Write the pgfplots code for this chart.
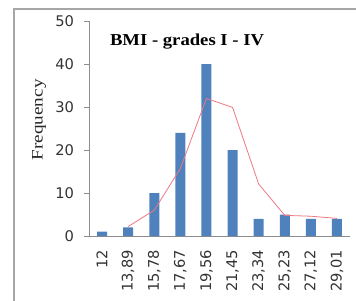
\documentclass[border=0pt]{standalone}
\usepackage{fontspec}
\setmainfont{Liberation Serif}
\newfontfamily\dejavu{DejaVu Sans}
\usepackage{pgfplots}
\pgfplotsset{compat=1.18}
\definecolor{barblue}{HTML}{4F81BD}
\definecolor{linered}{RGB}{238,120,130}
\definecolor{axgray}{HTML}{8C8C8C}
\definecolor{framegray}{HTML}{A6A6A6}
\begin{document}
\begin{tikzpicture}
\useasboundingbox (0,0) rectangle (267pt,225pt);
\draw[framegray, line width=1.2pt] (10.5pt,-5pt) -- (10.5pt,218.25pt) -- (280pt,218.25pt);
\begin{axis}[
  at={(66.75pt,48pt)}, anchor=south west,
  scale only axis, width=195.75pt, height=161.25pt,
  xmin=-0.5, xmax=9.5, ymin=0, ymax=50,
  axis lines=left,
  axis line style={axgray, -},
  every tick/.style={axgray, thin},
  tick align=outside,
  ytick={0,10,20,30,40,50},
  major tick length=3.75pt,
  xtick={0,...,9},
  xticklabels={12,{13,89},{15,78},{17,67},{19,56},{21,45},{23,34},{25,23},{27,12},{29,01}},
  x tick style={draw=none},
  minor xtick={-0.5,0.5,...,9.5},
  minor x tick style={axgray, thin},
  minor tick length=3.75pt,
  /pgf/number format/assume math mode=true,
  ticklabel style={font=\dejavu\fontsize{11}{13}\selectfont, text=black!80},
  xticklabel style={rotate=90, anchor=east, xshift=-3pt},
  yticklabel style={xshift=-4pt},
  ylabel={\scalebox{1.2}[1]{Frequency}},
  ylabel style={at={(ticklabel cs:0.54)}, font=\fontsize{12}{14}\selectfont, text=black!85},
  clip=false,
]
\addplot[ybar, bar width=7.5pt, fill=barblue, draw=none] coordinates {
(0,1) (1,2) (2,10) (3,24) (4,40) (5,20) (6,4) (7,5) (8,4) (9,4)};
\addplot[linered, line width=0.6pt, mark=none] coordinates {
(1,2.2) (2,6) (3,15.7) (4,32) (5,29.9) (6,12.1) (7,4.8) (8,4.6) (9,4.1)};
\end{axis}
\node[anchor=base, font=\bfseries\fontsize{12.5}{14}\selectfont] at (140.25pt,190.5pt) {\scalebox{1.12}[1]{BMI - grades I - IV}};
\end{tikzpicture}
\end{document}
